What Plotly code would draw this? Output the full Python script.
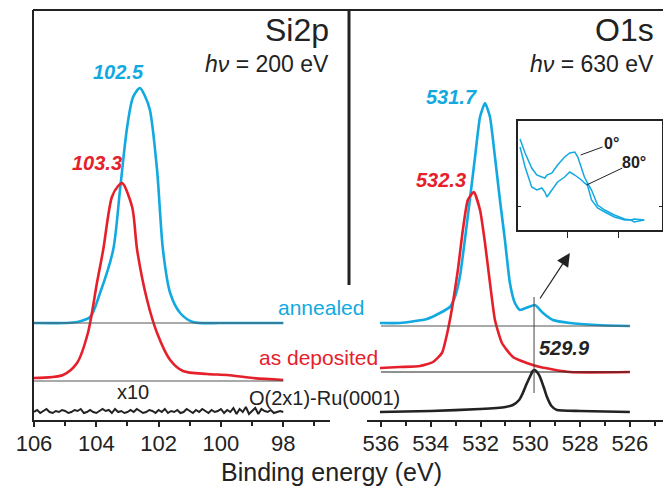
import numpy as np
import plotly.graph_objects as go

# ---- data (heights in arbitrary units) ----
si_energy_annealed = [106.0, 105.0, 104.62, 104.2, 103.88, 103.46, 103.24, 103.01, 102.82, 102.6,
                      102.44, 102.28, 102.05, 101.86, 101.63, 101.31, 100.9, 100.0, 99.0, 98.0]
si_annealed = [97, 97, 98, 103, 127, 170, 230, 293, 323, 332,
               324, 310, 250, 170, 127, 107, 98, 97, 97, 97]

si_energy_dep = [106.03, 105.07, 104.62, 104.27, 103.98, 103.78, 103.5, 103.3, 103.17, 102.85,
                 102.69, 102.37, 102.05, 101.63, 101.22, 100.45, 99.8, 98.97, 98.0]
si_deposited = [42, 45, 57, 87, 137, 170, 223, 234, 237, 213,
                170, 120, 87, 60, 49, 46, 45, 42, 40]

si_energy_ru = np.linspace(106, 98, 81)
si_ru_x10 = [8, 10, 7, 9, 11, 8, 7, 9, 8, 10, 9, 7, 8, 10, 9, 11, 7, 8, 10, 8,
             7, 9, 11, 9, 10, 7, 11, 8, 9, 7, 8, 10, 8, 11, 9, 7, 8, 10, 9, 7,
             10, 8, 11, 7, 9, 8, 10, 7, 8, 11, 9, 7, 10, 8, 11, 9, 7, 10, 8, 9,
             11, 7, 10, 8, 12, 6, 11, 8, 13, 6, 9, 12, 6, 11, 9, 8, 10, 7, 8, 9, 8]

o_energy_annealed = [536.04, 535.24, 534.15, 533.63, 533.23, 533.03, 532.83, 532.63, 532.43, 532.22,
                     532.02, 531.82, 531.62, 531.42, 531.22, 531.02, 530.82, 530.62, 530.42, 529.82,
                     529.49, 529.09, 528.41, 527.33, 526.0]
o_annealed = [97, 97, 101, 107, 113, 123, 143, 180, 220, 263,
              303, 317, 303, 263, 220, 180, 137, 117, 110, 115,
              107, 100, 97, 95, 94]

o_energy_dep = [536.04, 535.24, 534.43, 533.91, 533.55, 533.31, 533.11, 532.91, 532.71, 532.51,
                532.27, 532.02, 531.82, 531.62, 531.42, 531.14, 530.7, 530.14, 529.61, 528.41, 526.0]
o_deposited = [52, 53, 54, 58, 67, 90, 117, 150, 190, 220,
               228, 210, 177, 137, 100, 77, 63, 57, 53, 48, 48]

o_energy_ru = [536.04, 534.0, 532.02, 531.0, 530.7, 530.45, 530.3, 530.15, 530.02, 529.9,
               529.82, 529.7, 529.61, 529.45, 529.33, 529.15, 528.93, 528.0, 526.0]
o_ru = [8, 9, 11, 13, 15, 20, 27, 36, 43, 49,
        50, 47, 43, 32, 23, 14, 10, 9, 8]

inset_energy = [530.94, 530.84, 530.71, 530.61, 530.51, 530.45, 530.41, 530.31, 530.2, 530.06,
                529.96, 529.86, 529.8, 529.73, 529.67, 529.61, 529.53, 529.41, 529.27, 529.08,
                528.94, 528.88, 528.75, 528.69, 528.49]
inset_0deg = [91, 77, 62, 55, 53, 52, 55, 57, 65, 73,
              77, 78, 73, 63, 53, 47, 40, 25, 20, 15,
              12, 11, 10, 11, 10]
inset_80deg = [83, 63, 43, 40, 42, 38, 33, 40, 48, 53,
               58, 55, 53, 50, 47, 45, 30, 22, 18, 13,
               11, 10, 10, 8, 10]

CYAN = "#12A9E1"
RED = "#E5202B"
DARK = "#222222"
FONT = "Liberation Sans, Arial, sans-serif"

# page body has an 8px margin, so the figure is drawn 16px smaller
OFF = 8
W, H = 671 - 2 * OFF, 496 - 2 * OFF


def px(x):
    return (x - OFF) / W


def py(y):
    return 1 - (y - OFF) / H


fig = go.Figure()

# left panel: Si2p
fig.add_trace(go.Scatter(x=si_energy_annealed, y=si_annealed, mode="lines",
                         line=dict(color=CYAN, width=2.6, shape="spline", smoothing=0.8),
                         xaxis="x", yaxis="y"))
fig.add_trace(go.Scatter(x=si_energy_dep, y=si_deposited, mode="lines",
                         line=dict(color=RED, width=2.6, shape="spline", smoothing=0.8),
                         xaxis="x", yaxis="y"))
fig.add_trace(go.Scatter(x=si_energy_ru, y=si_ru_x10, mode="lines",
                         line=dict(color=DARK, width=2),
                         xaxis="x", yaxis="y"))

# right panel: O1s
fig.add_trace(go.Scatter(x=o_energy_annealed, y=o_annealed, mode="lines",
                         line=dict(color=CYAN, width=2.6, shape="spline", smoothing=0.5),
                         xaxis="x2", yaxis="y2"))
fig.add_trace(go.Scatter(x=o_energy_dep, y=o_deposited, mode="lines",
                         line=dict(color=RED, width=2.6, shape="spline", smoothing=0.5),
                         xaxis="x2", yaxis="y2"))
fig.add_trace(go.Scatter(x=o_energy_ru, y=o_ru, mode="lines",
                         line=dict(color=DARK, width=2.6, shape="spline", smoothing=0.5),
                         xaxis="x2", yaxis="y2"))

# inset
fig.add_trace(go.Scatter(x=inset_energy, y=inset_0deg, mode="lines",
                         line=dict(color=CYAN, width=1.5),
                         xaxis="x3", yaxis="y3"))
fig.add_trace(go.Scatter(x=inset_energy, y=inset_80deg, mode="lines",
                         line=dict(color=CYAN, width=1.5),
                         xaxis="x3", yaxis="y3"))

tickfont = dict(family=FONT, size=22, color=DARK)
axis_common = dict(showgrid=False, zeroline=False, showline=True, linecolor=DARK, linewidth=2,
                   automargin=False, ticklabelstandoff=-2,
                   ticks="outside", ticklen=5, tickwidth=1.5, tickcolor=DARK, tickfont=tickfont,
                   minor=dict(dtick=1, ticks="outside", ticklen=4, tickcolor=DARK, tickwidth=1.5))
yaxis_common = dict(range=[0, 410], showgrid=False, zeroline=False, automargin=False,
                    showline=True, linecolor=DARK, linewidth=2, showticklabels=False)

fig.update_layout(
    template="none",
    width=W, height=H,
    margin=dict(l=0, r=0, t=0, b=0, pad=0),
    paper_bgcolor="white", plot_bgcolor="white",
    showlegend=False,
    xaxis=dict(domain=[px(34), px(330)], range=[106, 96.5], dtick=2, tick0=98, anchor="y",
               **axis_common),
    yaxis=dict(domain=[py(420), py(10)], anchor="x", **yaxis_common),
    xaxis2=dict(domain=[px(367), px(663)], range=[536.56, 524.67], dtick=2, tick0=526, anchor="y2",
                **axis_common),
    yaxis2=dict(domain=[py(420), py(10)], side="right", anchor="x2", **yaxis_common),
    xaxis3=dict(domain=[px(518), px(662)], range=[530.98, 528.14], anchor="y3", automargin=False,
                showgrid=False, zeroline=False, showline=True, mirror=True, linecolor=DARK,
                linewidth=1.5, ticks="outside", ticklen=6, tickcolor=DARK,
                tickvals=[530, 529], showticklabels=False),
    yaxis3=dict(domain=[py(230), py(121)], range=[0, 109], anchor="x3", automargin=False,
                showgrid=False, zeroline=False, showline=True, mirror="ticks", linecolor=DARK,
                linewidth=1.5, ticks="inside", ticklen=3, tickcolor=DARK,
                tickvals=[24], showticklabels=False),
)

# frame: top border and divider
fig.add_shape(type="line", xref="paper", yref="paper", x0=px(33), x1=px(664), y0=py(10), y1=py(10),
              line=dict(color=DARK, width=2))
fig.add_shape(type="line", xref="paper", yref="paper", x0=px(349), x1=px(349), y0=py(10), y1=py(285),
              line=dict(color=DARK, width=3))

# baselines
fig.add_shape(type="line", xref="x", yref="y", x0=106, x1=98, y0=97, y1=97,
              line=dict(color="#555555", width=1))
fig.add_shape(type="line", xref="x", yref="y", x0=106, x1=98, y0=39, y1=39,
              line=dict(color="#555555", width=1))
fig.add_shape(type="line", xref="x2", yref="y2", x0=536, x1=526, y0=94, y1=94,
              line=dict(color="#555555", width=1))
fig.add_shape(type="line", xref="x2", yref="y2", x0=536, x1=526, y0=48, y1=48,
              line=dict(color=DARK, width=1))
fig.add_shape(type="line", xref="x2", yref="y2", x0=529.85, x1=529.85, y0=27, y1=123,
              line=dict(color="#444444", width=1))

# inset leader lines
fig.add_shape(type="line", xref="x3", yref="y3", x0=529.745, x1=529.313, y0=75, y1=83,
              line=dict(color=DARK, width=1))
fig.add_shape(type="line", xref="x3", yref="y3", x0=529.627, x1=528.921, y0=45, y1=62,
              line=dict(color=DARK, width=1))


def label(text, x, y, size, color=DARK, xanchor="center"):
    fig.add_annotation(text=text, x=px(x), y=py(y), xref="paper", yref="paper", showarrow=False,
                       xanchor=xanchor, yanchor="middle",
                       font=dict(family=FONT, size=size, color=color))


label("Si2p", 331, 30, 32, xanchor="right")
label("<i>h</i><i>ν</i> = 200 eV", 331, 64, 23, xanchor="right")
label("O1s", 656, 30, 32, xanchor="right")
label("<i>h</i><i>ν</i> = 630 eV", 656, 64, 23, xanchor="right")

label("<b><i>102.5</i></b>", 118, 72, 20, CYAN)
label("<b><i>103.3</i></b>", 97, 163, 20, RED)
label("<b><i>531.7</i></b>", 451, 97, 20, CYAN)
label("<b><i>532.3</i></b>", 441, 180, 20, RED)
label("<b><i>529.9</i></b>", 564, 348, 20, DARK)

label("x10", 133, 392, 20)
label("annealed", 276, 307, 21, CYAN, xanchor="left")
label("as deposited", 257, 357, 21, RED, xanchor="left")
label("O(2x1)-Ru(0001)", 247, 398, 20, DARK, xanchor="left")

label("<b>0°</b>", 611, 143, 16)
label("<b>80°</b>", 634, 162, 16)

label("Binding energy (eV)", 331, 472, 25)

# arrow to inset
fig.add_annotation(x=528.41, y=167, ax=529.65, ay=120, xref="x2", yref="y2",
                   axref="x2", ayref="y2", text="", showarrow=True,
                   arrowhead=2, arrowsize=2.2, arrowwidth=1.2, arrowcolor=DARK)

fig.write_html("out.html")
